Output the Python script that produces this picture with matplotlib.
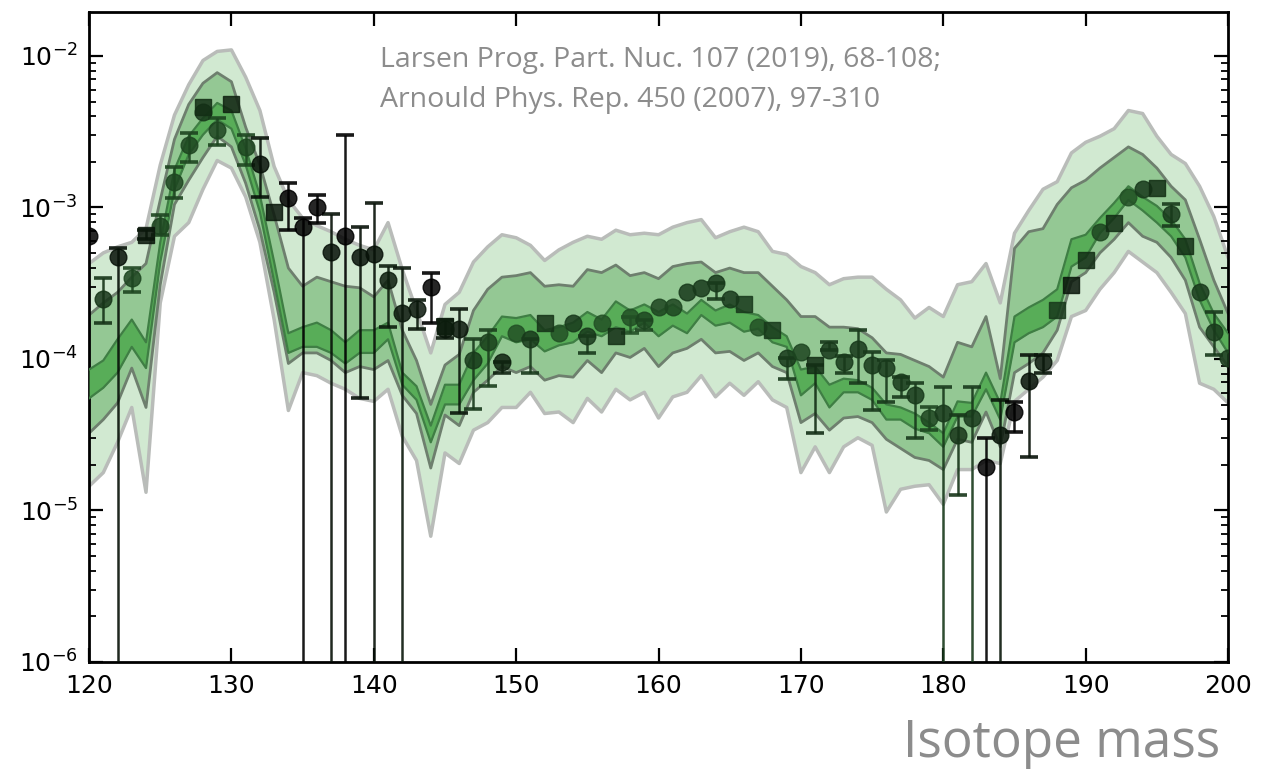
import numpy as np
import matplotlib
matplotlib.use("Agg")
import matplotlib.pyplot as plt

# ---------------- data ----------------
mass = np.arange(120, 201)

# band edges, log10(abundance) at each integer mass 120..200
outer_hi_log = [-3.37, -3.30, -3.26, -3.23, -3.14, -2.72, -2.39, -2.19, -2.03, -1.97,
                -1.96, -2.14, -2.36, -2.73, -2.95, -3.07, -3.12, -3.16, -3.21, -3.25,
                -3.28, -3.10, -3.41, -3.68, -3.96, -3.64, -3.56, -3.36, -3.26, -3.18,
                -3.20, -3.25, -3.35, -3.28, -3.23, -3.19, -3.21, -3.15, -3.18, -3.17,
                -3.18, -3.13, -3.10, -3.08, -3.20, -3.16, -3.13, -3.16, -3.29, -3.31,
                -3.39, -3.43, -3.51, -3.47, -3.46, -3.46, -3.54, -3.61, -3.73, -3.66,
                -3.72, -3.51, -3.49, -3.37, -3.63, -3.17, -3.02, -2.88, -2.83, -2.64,
                -2.57, -2.53, -2.48, -2.36, -2.38, -2.53, -2.65, -2.71, -2.86, -3.06,
                -3.33]
mid_hi_log = [-3.71, -3.63, -3.56, -3.46, -3.37, -2.95, -2.55, -2.32, -2.18, -2.11,
              -2.17, -2.47, -2.72, -3.05, -3.40, -3.52, -3.46, -3.49, -3.52, -3.53,
              -3.59, -3.48, -3.81, -4.01, -4.30, -4.04, -3.97, -3.68, -3.54, -3.46,
              -3.45, -3.43, -3.52, -3.51, -3.52, -3.41, -3.43, -3.38, -3.45, -3.43,
              -3.47, -3.39, -3.37, -3.36, -3.43, -3.40, -3.43, -3.43, -3.52, -3.61,
              -3.72, -3.72, -3.79, -3.79, -3.80, -3.86, -3.96, -3.97, -4.01, -4.05,
              -4.12, -3.89, -3.92, -3.72, -4.13, -3.27, -3.16, -3.14, -2.98, -2.87,
              -2.82, -2.74, -2.67, -2.60, -2.65, -2.74, -2.86, -2.95, -3.21, -3.48,
              -3.70]
inner_hi_log = [-4.07, -4.01, -3.87, -3.74, -3.89, -3.23, -2.75, -2.53, -2.41, -2.31,
                -2.36, -2.61, -2.92, -3.36, -3.83, -3.79, -3.76, -3.81, -3.89, -3.81,
                -3.81, -3.76, -4.09, -4.18, -4.44, -4.17, -4.17, -3.96, -3.85, -3.72,
                -3.73, -3.71, -3.81, -3.79, -3.76, -3.69, -3.74, -3.62, -3.68, -3.64,
                -3.69, -3.64, -3.70, -3.61, -3.68, -3.64, -3.69, -3.71, -3.79, -3.85,
                -4.07, -4.05, -4.17, -4.13, -4.14, -4.19, -4.30, -4.32, -4.36, -4.42,
                -4.49, -4.28, -4.29, -4.09, -4.29, -3.72, -3.66, -3.61, -3.54, -3.21,
                -3.18, -3.07, -2.97, -2.86, -2.93, -2.99, -3.08, -3.21, -3.50, -3.70,
                -3.83]
inner_lo_log = [-4.26, -4.19, -4.09, -3.92, -4.06, -3.36, -2.88, -2.65, -2.52, -2.42,
                -2.48, -2.72, -3.03, -3.49, -3.96, -3.92, -3.92, -3.96, -4.03, -3.96,
                -3.96, -3.87, -4.17, -4.27, -4.55, -4.30, -4.30, -4.14, -4.03, -3.85,
                -3.89, -3.87, -3.95, -3.91, -3.89, -3.82, -3.85, -3.79, -3.82, -3.76,
                -3.85, -3.78, -3.83, -3.71, -3.78, -3.76, -3.82, -3.80, -3.89, -3.92,
                -4.24, -4.16, -4.32, -4.22, -4.22, -4.27, -4.40, -4.40, -4.46, -4.49,
                -4.58, -4.38, -4.38, -4.20, -4.40, -3.89, -3.83, -3.79, -3.72, -3.39,
                -3.33, -3.17, -3.07, -2.95, -3.02, -3.10, -3.19, -3.33, -3.61, -3.81,
                -3.96]
mid_lo_log = [-4.49, -4.40, -4.29, -4.06, -4.32, -3.51, -2.98, -2.82, -2.67, -2.53,
              -2.60, -2.84, -3.15, -3.56, -4.03, -3.96, -3.96, -4.01, -4.09, -4.05,
              -4.07, -4.01, -4.24, -4.36, -4.72, -4.37, -4.44, -4.22, -4.14, -4.05,
              -4.09, -4.05, -4.14, -4.11, -4.12, -4.01, -4.09, -3.96, -3.99, -3.93,
              -4.05, -3.96, -3.93, -3.87, -3.96, -3.95, -4.01, -3.96, -4.05, -4.09,
              -4.42, -4.36, -4.47, -4.39, -4.38, -4.42, -4.53, -4.59, -4.65, -4.67,
              -4.73, -4.53, -4.55, -4.35, -4.58, -4.09, -4.03, -3.96, -3.81, -3.49,
              -3.43, -3.30, -3.21, -3.10, -3.19, -3.23, -3.33, -3.48, -3.79, -3.92,
              -4.05]
outer_lo_log = [-4.84, -4.75, -4.55, -4.32, -4.88, -3.63, -3.19, -3.10, -2.88, -2.69,
                -2.74, -2.93, -3.23, -3.74, -4.34, -4.09, -4.11, -4.16, -4.20, -4.26,
                -4.28, -4.20, -4.51, -4.67, -5.17, -4.62, -4.69, -4.47, -4.42, -4.32,
                -4.32, -4.22, -4.36, -4.35, -4.42, -4.26, -4.35, -4.20, -4.27, -4.22,
                -4.39, -4.25, -4.22, -4.11, -4.25, -4.16, -4.24, -4.15, -4.27, -4.32,
                -4.75, -4.58, -4.75, -4.58, -4.52, -4.57, -5.01, -4.86, -4.84, -4.83,
                -4.96, -4.73, -4.73, -4.67, -4.69, -4.28, -4.20, -4.12, -4.01, -3.72,
                -3.68, -3.54, -3.43, -3.29, -3.36, -3.43, -3.56, -3.70, -4.16, -4.20,
                -4.29]

# measured abundances (circles); nan = no error bar, 1e-7 = lower error off scale
circ_mass = [120, 121, 122, 123, 125, 126, 127, 128, 129, 131, 132, 134, 135, 136, 137,
             138, 139, 140, 141, 142, 143, 144, 145, 146, 147, 148, 149, 150, 151, 153,
             154, 155, 156, 158, 159, 160, 161, 162, 163, 164, 165, 167, 169, 170, 172,
             173, 174, 175, 176, 177, 178, 179, 180, 181, 182, 183, 184, 185, 186, 187,
             191, 193, 194, 196, 198, 199, 200]
circ_val = [6.5e-4, 2.5e-4, 4.7e-4, 3.4e-4, 7.6e-4, 1.48e-3, 2.57e-3, 4.27e-3, 3.24e-3, 2.51e-3,
            1.95e-3, 1.15e-3, 7.4e-4, 1.0e-3, 5.1e-4, 6.5e-4, 4.7e-4, 4.9e-4, 3.3e-4, 2.0e-4,
            2.14e-4, 3.0e-4, 1.58e-4, 1.58e-4, 9.8e-5, 1.29e-4, 9.5e-5, 1.48e-4, 1.35e-4, 1.48e-4,
            1.74e-4, 1.41e-4, 1.74e-4, 1.9e-4, 1.82e-4, 2.19e-4, 2.19e-4, 2.75e-4, 2.95e-4, 3.16e-4,
            2.5e-4, 1.62e-4, 1.02e-4, 1.12e-4, 1.15e-4, 9.5e-5, 1.17e-4, 9.1e-5, 8.7e-5, 7.1e-5,
            5.8e-5, 4.1e-5, 4.4e-5, 3.16e-5, 4.1e-5, 1.95e-5, 3.16e-5, 4.5e-5, 7.2e-5, 9.5e-5,
            6.9e-4, 1.17e-3, 1.32e-3, 9.1e-4, 2.75e-4, 1.51e-4, 1.02e-4]
circ_lo = [np.nan, 1.74e-4, 1e-7, 2.75e-4, 6.6e-4, 1.15e-3, 2.0e-3, np.nan, 2.57e-3, 1.91e-3,
           1.17e-3, 7.1e-4, 1e-7, 7.9e-4, 1e-7, 1e-7, 5.5e-5, 1e-7, 1.62e-4, 1e-7,
           1.58e-4, 1.74e-4, 1.38e-4, 4.4e-5, 4.7e-5, 6.6e-5, 8.1e-5, np.nan, 8.1e-5, np.nan,
           np.nan, 1.1e-4, np.nan, 1.48e-4, 1.55e-4, np.nan, np.nan, np.nan, np.nan, 2.5e-4,
           np.nan, np.nan, 7.4e-5, np.nan, 1.15e-4, 8.1e-5, 6.9e-5, 4.6e-5, 5.2e-5, 5.6e-5,
           3.0e-5, 3.4e-5, 1e-7, 1.26e-5, 1e-7, 1e-7, 1e-7, 3.3e-5, 2.24e-5, 8.1e-5,
           np.nan, np.nan, np.nan, 7.6e-4, np.nan, 1.07e-4, np.nan]
circ_hi = [np.nan, 3.4e-4, 5.4e-4, 4.0e-4, 8.9e-4, 1.86e-3, 3.09e-3, np.nan, 3.89e-3, 3.02e-3,
           2.88e-3, 1.45e-3, 8.5e-4, 1.2e-3, 9.1e-4, 3.02e-3, 7.4e-4, 1.07e-3, 4.1e-4, 4.0e-4,
           2.45e-4, 3.7e-4, 1.82e-4, 2.14e-4, 1.35e-4, 1.55e-4, 9.5e-5, np.nan, 1.35e-4, np.nan,
           np.nan, 1.41e-4, np.nan, 1.9e-4, 1.82e-4, np.nan, np.nan, np.nan, np.nan, 3.16e-4,
           np.nan, np.nan, 1.02e-4, np.nan, 1.29e-4, 1.05e-4, 1.55e-4, 1.12e-4, 9.8e-5, 7.6e-5,
           6.9e-5, 4.8e-5, 6.5e-5, 4.3e-5, 6.5e-5, 3.0e-5, 5.4e-5, 5.2e-5, 1.07e-4, 1.07e-4,
           np.nan, np.nan, np.nan, 1.05e-3, np.nan, 2.04e-4, np.nan]
circ_shade = [0.0, 0.45, 0.15, 0.6, 0.6, 0.6, 0.6, 0.5, 0.6, 0.6,
              0.15, 0.0, 0.0, 0.0, 0.15, 0.0, 0.15, 0.15, 0.25, 0.2,
              0.2, 0.0, 0.2, 0.2, 0.5, 0.55, 0.3, 0.7, 0.5, 0.7,
              0.5, 0.5, 0.7, 0.7, 0.6, 0.6, 0.6, 0.5, 0.5, 0.5,
              0.5, 0.7, 0.5, 0.6, 0.5, 0.5, 0.5, 0.5, 0.5, 0.5,
              0.5, 0.6, 0.5, 0.45, 0.5, 0.0, 0.2, 0.0, 0.15, 0.2,
              0.6, 0.7, 0.5, 0.5, 0.5, 0.5, 0.5]

# measured abundances (squares)
sq_mass = [124, 128, 130, 133, 145, 152, 157, 166, 168, 171, 188, 189, 190, 192, 195, 197]
sq_val = [6.6e-4, 4.57e-3, 4.79e-3, 9.3e-4, 1.66e-4, 1.74e-4, 1.41e-4, 2.29e-4, 1.55e-4, 9.1e-5,
          2.09e-4, 3.09e-4, 4.5e-4, 7.9e-4, 1.35e-3, 5.6e-4]
sq_lo = [6.2e-4, np.nan, np.nan, np.nan, np.nan, np.nan, np.nan, np.nan, np.nan, 3.24e-5,
         np.nan, np.nan, np.nan, np.nan, np.nan, np.nan]
sq_hi = [7.1e-4, np.nan, np.nan, np.nan, np.nan, np.nan, np.nan, np.nan, np.nan, 9.1e-5,
         np.nan, np.nan, np.nan, np.nan, np.nan, np.nan]
sq_shade = [0.2, 0.4, 0.3, 0.2, 0.25, 0.45, 0.4, 0.5, 0.5, 0.4, 0.5, 0.2, 0.4, 0.4, 0.4, 0.4]

x_ticks = [120, 130, 140, 150, 160, 170, 180, 190, 200]
ref_text = ["Larsen Prog. Part. Nuc. 107 (2019), 68-108;",
            "Arnould Phys. Rep. 450 (2007), 97-310"]
x_label = "Isotope mass"

# ---------------- plot ----------------
plt.rcParams['font.family'] = ['DejaVu Sans']
fig = plt.figure(figsize=(12.65, 7.71), dpi=100)
ax = fig.add_axes([0.0704, 0.1414, 0.9004, 0.8430])

def p10(a):
    return 10.0 ** np.asarray(a)

light_fc, light_ec = '#d1e9d1', '#b9bcb9'
mid_fc, mid_ec = '#94c894', '#6e7f6e'
inner_fc, inner_ec = '#58ad58', '#3f7e44'

ax.fill_between(mass, p10(outer_lo_log), p10(outer_hi_log), color=light_fc, lw=0, zorder=1)
ax.plot(mass, p10(outer_hi_log), color=light_ec, lw=2.5, zorder=1.1)
ax.plot(mass, p10(outer_lo_log), color=light_ec, lw=2.5, zorder=1.1)
ax.fill_between(mass, p10(mid_lo_log), p10(mid_hi_log), color=mid_fc, lw=0, zorder=2)
ax.plot(mass, p10(mid_hi_log), color=mid_ec, lw=2.0, zorder=2.1)
ax.plot(mass, p10(mid_lo_log), color=mid_ec, lw=2.0, zorder=2.1)
ax.fill_between(mass, p10(inner_lo_log), p10(inner_hi_log), color=inner_fc, lw=0, zorder=3)
ax.plot(mass, p10(inner_hi_log), color=inner_ec, lw=1.6, zorder=3.1)
ax.plot(mass, p10(inner_lo_log), color=inner_ec, lw=1.6, zorder=3.1)

dark = np.array([0.0, 0.0, 0.0])
green = np.array([0.19, 0.45, 0.21])

def shade_color(s):
    return tuple(dark + s * (green - dark))

def draw_points(ms, vals, los, his, shades, marker, size):
    for m, v, lo, hi, s in zip(ms, vals, los, his, shades):
        c = shade_color(s)
        if not (np.isnan(lo) and np.isnan(hi)):
            lo_e = v - lo if not np.isnan(lo) else 0.0
            hi_e = hi - v if not np.isnan(hi) else 0.0
            ax.errorbar([m], [v], yerr=[[lo_e], [hi_e]], fmt='none', ecolor=c,
                        elinewidth=1.8, capsize=6.5, capthick=2.6, alpha=0.9, zorder=5)
        ax.plot([m], [v], marker=marker, ms=size, color=c, mec=c, alpha=0.85,
                ls='none', zorder=6)

draw_points(circ_mass, circ_val, circ_lo, circ_hi, circ_shade, 'o', 12)
draw_points(sq_mass, sq_val, sq_lo, sq_hi, sq_shade, 's', 11)

ax.set_yscale('log')
ax.set_xlim(120, 200)
ax.set_ylim(1e-6, 1.95e-2)
ax.set_xticks(x_ticks)
ax.tick_params(axis='both', which='major', direction='in', length=10, width=1.6,
               top=True, right=True, labelsize=18)
ax.tick_params(axis='both', which='minor', direction='in', length=5, width=1.3,
               top=True, right=True)
ax.tick_params(axis='x', which='minor', bottom=False, top=False)
ax.tick_params(axis='x', which='major', pad=9)
ax.tick_params(axis='y', which='major', pad=8)
for sp in ax.spines.values():
    sp.set_linewidth(2.0)

ax.text(0.2555, 0.926, ref_text[0], transform=ax.transAxes, color='#8c8c8c',
        fontsize=20.5, family=['Open Sans', 'DejaVu Sans'], va='center', ha='left', zorder=10)
ax.text(0.2555, 0.8646, ref_text[1], transform=ax.transAxes, color='#8c8c8c',
        fontsize=20.5, family=['Open Sans', 'DejaVu Sans'], va='center', ha='left', zorder=10)
fig.text(0.9644, 0.036, x_label, color='#8c8c8c', fontsize=37,
         family=['Open Sans', 'DejaVu Sans'], ha='right', va='center')

fig.savefig('out.png', dpi=100)
